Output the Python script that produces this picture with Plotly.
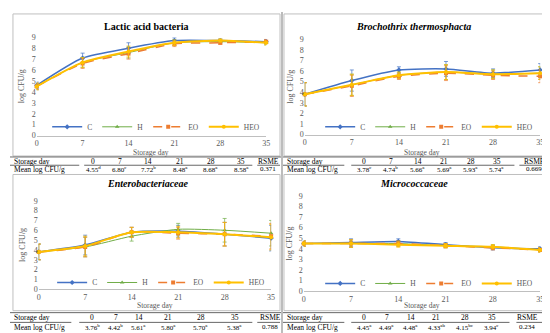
import plotly.graph_objects as go

W, H = 550, 333

days = [0, 7, 14, 21, 28, 35]
series_names = ["C", "H", "EO", "HEO"]

# Lactic acid bacteria
lab_C = [4.6, 7.1, 8.0, 8.7, 8.7, 8.6]
lab_H = [4.5, 6.7, 7.6, 8.5, 8.6, 8.5]
lab_EO = [4.5, 6.6, 7.5, 8.4, 8.5, 8.6]
lab_HEO = [4.5, 6.7, 7.7, 8.5, 8.7, 8.5]
lab_err = [0.3, 0.45, 0.5, 0.25, 0.15, 0.2]

# Brochothrix thermosphacta
bt_C = [3.8, 5.1, 6.1, 6.2, 5.8, 6.1]
bt_H = [3.8, 4.7, 5.6, 5.9, 5.7, 5.8]
bt_EO = [3.8, 4.6, 5.5, 5.8, 5.6, 5.5]
bt_HEO = [3.8, 4.7, 5.6, 5.9, 5.7, 5.8]
bt_err = [1.1, 1.0, 0.3, 0.7, 0.4, 0.6]

# Enterobacteriaceae
en_C = [3.8, 4.5, 5.8, 5.9, 5.6, 5.2]
en_H = [3.8, 4.3, 5.4, 6.1, 6.0, 5.7]
en_EO = [3.8, 4.3, 5.8, 5.7, 5.6, 5.4]
en_HEO = [3.8, 4.4, 5.8, 5.8, 5.6, 5.3]
en_err = [0.8, 1.0, 0.5, 0.6, 1.2, 1.3]

# Micrococcaceae
mi_C = [4.5, 4.6, 4.7, 4.4, 4.1, 4.0]
mi_H = [4.5, 4.5, 4.5, 4.3, 4.2, 3.9]
mi_EO = [4.5, 4.5, 4.5, 4.3, 4.1, 3.9]
mi_HEO = [4.5, 4.5, 4.4, 4.3, 4.2, 3.9]
mi_err = [0.25, 0.35, 0.25, 0.2, 0.2, 0.2]

titles = ["<b>Lactic acid bacteria</b>", "<b><i>Brochothrix thermosphacta</i></b>",
          "<b><i>Enterobacteriaceae</i></b>", "<b><i>Micrococcaceae</i></b>"]

table_head = ["0", "7", "14", "21", "28", "35", "RSME"]
lab_means = ["4.55<sup>d</sup>", "6.80<sup>c</sup>", "7.72<sup>b</sup>", "8.48<sup>a</sup>", "8.68<sup>a</sup>", "8.58<sup>a</sup>", "0.371"]
bt_means = ["3.78<sup>c</sup>", "4.74<sup>b</sup>", "5.66<sup>a</sup>", "5.69<sup>a</sup>", "5.93<sup>a</sup>", "5.74<sup>a</sup>", "0.669"]
en_means = ["3.76<sup>b</sup>", "4.42<sup>b</sup>", "5.61<sup>a</sup>", "5.80<sup>a</sup>", "5.70<sup>a</sup>", "5.38<sup>a</sup>", "0.788"]
mi_means = ["4.45<sup>a</sup>", "4.49<sup>a</sup>", "4.48<sup>a</sup>", "4.33<sup>ab</sup>", "4.15<sup>bc</sup>", "3.94<sup>c</sup>", "0.234"]

colors = {"C": "#4472C4", "H": "#70AD47", "EO": "#ED7D31", "HEO": "#FFC000"}
symbols = {"C": "diamond", "H": "triangle-up", "EO": "square", "HEO": "circle"}
dashes = {"C": "solid", "H": "solid", "EO": "dash", "HEO": "solid"}
widths = {"C": 1.5, "H": 1.0, "EO": 1.5, "HEO": 2.0}

FONT = "Times New Roman, Liberation Serif, serif"
GRAY = "#595959"

def px(x):
    return x / W

def py(y):
    return 1 - y / H

panels = [
    dict(data=[lab_C, lab_H, lab_EO, lab_HEO], err=lab_err, title=titles[0], means=lab_means,
         plot=(27, 259, 26, 127), box=(3, 273, 2, 148), title_xy=(137, 15),
         ytitle_x=12, xtitle_y=144, leg=(258, 118),
         tbl=dict(line0=149, row1=153.5, line1=157.5, row2=161.5, x0=0, x1=274,
                  cols=[84, 111, 140, 172, 203, 234, 261], seg=[(0, 70), (75, 245), (250, 273)])),
    dict(data=[bt_C, bt_H, bt_EO, bt_HEO], err=bt_err, title=titles[1], means=bt_means,
         plot=(298, 536, 28, 126), box=(277, 548, 2, 148), title_xy=(408, 15),
         ytitle_x=284, xtitle_y=144, leg=(534, 118),
         tbl=dict(line0=149, row1=153.5, line1=157.5, row2=161.5, x0=276, x1=550,
                  cols=[358, 385, 412, 439, 466, 492, 530], seg=[(276, 338), (345, 510), (515, 548)])),
    dict(data=[en_C, en_H, en_EO, en_HEO], err=en_err, title=titles[2], means=en_means,
         plot=(29, 264, 194, 285), box=(3, 273, 167, 307), title_xy=(140, 176),
         ytitle_x=12, xtitle_y=302, leg=(263, 278),
         tbl=dict(line0=309, row1=314, line1=319, row2=324, x0=0, x1=274,
                  cols=[83, 107, 130, 160, 193, 227, 263], seg=[(0, 62), (70, 245), (250, 273)])),
    dict(data=[mi_C, mi_H, mi_EO, mi_HEO], err=mi_err, title=titles[3], means=mi_means,
         plot=(297, 536, 189, 287), box=(277, 548, 167, 307), title_xy=(408, 176),
         ytitle_x=283, xtitle_y=302, leg=(534, 279),
         tbl=dict(line0=309, row1=314, line1=319, row2=324, x0=276, x1=550,
                  cols=[358, 381, 405, 431, 460, 487, 523], seg=[(276, 338), (345, 505), (512, 548)])),
]

fig = go.Figure()
layout = dict(width=W, height=H, margin=dict(l=0, r=0, t=0, b=0),
              paper_bgcolor="white", plot_bgcolor="white", showlegend=True,
              font=dict(family=FONT, color=GRAY, size=7))
shapes = []
annotations = []

for i, p in enumerate(panels):
    k = "" if i == 0 else str(i + 1)
    xa, ya = "x" + k, "y" + k
    legname = "legend" if i == 0 else "legend" + str(i + 1)
    x0, x1, y0, y1 = p["plot"]
    for name, vals in zip(series_names, p["data"]):
        fig.add_trace(go.Scatter(
            x=days, y=vals, name=name, mode="lines+markers",
            line=dict(color=colors[name], width=widths[name], dash=dashes[name], shape="spline", smoothing=0.6),
            marker=dict(symbol=symbols[name], size=4, color=colors[name]),
            error_y=dict(type="data", array=p["err"], visible=True, color=colors[name], thickness=0.7, width=2),
            xaxis=xa, yaxis=ya, legend=legname, cliponaxis=False))
    layout["xaxis" + k] = dict(domain=[px(x0), px(x1)], range=[0, 35], anchor=ya,
                               tickvals=days, ticks="", showgrid=False, zeroline=False,
                               showline=True, linecolor="#BFBFBF", linewidth=1,
                               tickfont=dict(family=FONT, size=8, color=GRAY), fixedrange=True)
    layout["yaxis" + k] = dict(domain=[py(y1), py(y0)], range=[0, 9], anchor=xa,
                               tickvals=list(range(10)), ticks="", showgrid=False, zeroline=False,
                               showline=False, tickfont=dict(family=FONT, size=8, color=GRAY), fixedrange=True)
    lx, ly = p["leg"]
    layout[legname] = dict(x=px(lx), y=py(ly), xanchor="right", yanchor="middle", orientation="h",
                           bgcolor="rgba(0,0,0,0)", font=dict(family=FONT, size=7.5, color=GRAY),
                           itemwidth=30, tracegroupgap=0)
    bx0, bx1, by0, by1 = p["box"]
    shapes.append(dict(type="rect", xref="paper", yref="paper", x0=px(bx0), x1=px(bx1),
                       y0=py(by1), y1=py(by0), line=dict(color="#BFBFBF", width=1)))
    tx, ty = p["title_xy"]
    annotations.append(dict(text=p["title"], x=px(tx), y=py(ty), xref="paper", yref="paper",
                            showarrow=False, font=dict(family=FONT, size=10, color="#000000"),
                            xanchor="center", yanchor="middle"))
    annotations.append(dict(text="log CFU/g", x=px(p["ytitle_x"]), y=py((y0 + y1) / 2), xref="paper", yref="paper",
                            showarrow=False, textangle=-90, font=dict(family=FONT, size=8, color=GRAY),
                            xanchor="center", yanchor="middle"))
    annotations.append(dict(text="Storage day", x=px((x0 + x1) / 2), y=py(p["xtitle_y"]), xref="paper", yref="paper",
                            showarrow=False, font=dict(family=FONT, size=7.5, color=GRAY),
                            xanchor="center", yanchor="middle"))
    t = p["tbl"]
    shapes.append(dict(type="line", xref="paper", yref="paper", x0=px(t["x0"]), x1=px(t["x1"]),
                       y0=py(t["line0"]), y1=py(t["line0"]), line=dict(color="#404040", width=0.8)))
    for sa, sb in t["seg"]:
        shapes.append(dict(type="line", xref="paper", yref="paper", x0=px(sa), x1=px(sb),
                           y0=py(t["line1"]), y1=py(t["line1"]), line=dict(color="#404040", width=0.8)))
    annotations.append(dict(text="Storage day", x=px(t["x0"] + 2), y=py(t["row1"]), xref="paper", yref="paper",
                            showarrow=False, xanchor="left", yanchor="middle",
                            font=dict(family=FONT, size=7.5, color="#000000")))
    annotations.append(dict(text="Mean log CFU/g", x=px(t["x0"] + 2), y=py(t["row2"]), xref="paper", yref="paper",
                            showarrow=False, xanchor="left", yanchor="middle",
                            font=dict(family=FONT, size=7.5, color="#000000")))
    for cx, hd, mv in zip(t["cols"], table_head, p["means"]):
        annotations.append(dict(text=hd, x=px(cx), y=py(t["row1"]), xref="paper", yref="paper",
                                showarrow=False, xanchor="center", yanchor="middle",
                                font=dict(family=FONT, size=7.5, color="#000000")))
        annotations.append(dict(text=mv, x=px(cx), y=py(t["row2"]), xref="paper", yref="paper",
                                showarrow=False, xanchor="center", yanchor="middle",
                                font=dict(family=FONT, size=7, color="#000000")))

# vertical divider between the panels
shapes.append(dict(type="line", xref="paper", yref="paper", x0=px(275), x1=px(275), y0=0, y1=1,
                   line=dict(color="#A6A6A6", width=1.5)))
layout["shapes"] = shapes
layout["annotations"] = annotations
fig.update_layout(**layout)
fig.write_html("out.html")
